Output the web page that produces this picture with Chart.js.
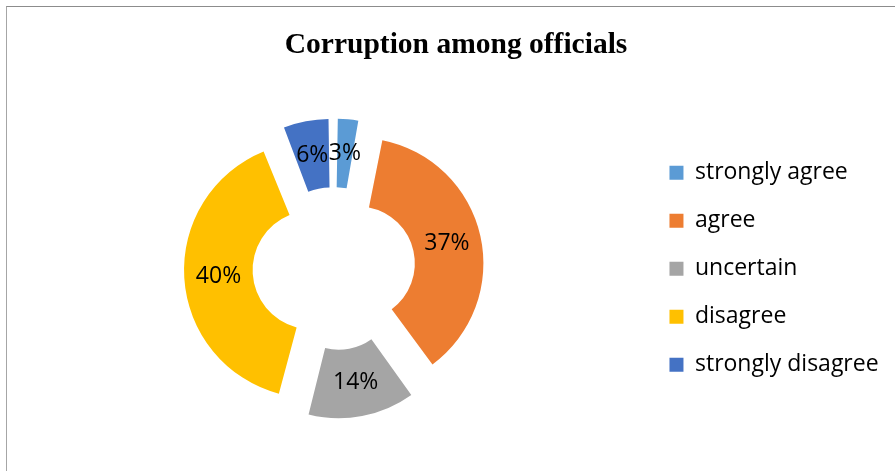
<!DOCTYPE html>
<html>
<head>
<meta charset="utf-8">
<script src="https://cdn.jsdelivr.net/npm/chart.js@4"></script>
<style>
  html, body { margin: 0; padding: 0; background: #fff; overflow: hidden; }
  #frame { position: absolute; left: 6px; top: 6px; width: 1000px; height: 1000px;
           border-left: 1px solid #a6a6a6; border-top: 1px solid #8c8c8c; }
  #wrap { position: absolute; left: 0; top: 0; width: 895px; height: 471px; }
</style>
</head>
<body>
<div id="frame"></div>
<div id="wrap"><canvas id="chart"></canvas></div>
<script>
const categories = ["strongly agree", "agree", "uncertain", "disagree", "strongly disagree"];
const percentages = [3, 37, 14, 40, 6];
const sliceColors = ["#5B9BD5", "#ED7D31", "#A5A5A5", "#FFC000", "#4472C4"];
const chartTitle = "Corruption among officials";

// every slice pulled out of the ring by the same distance
const explode = 31;
const total = percentages.reduce((a, b) => a + b, 0);

// Chart.js moves an arc by offset/4 * (2 - sin(circumference)), so undo that per slice
function sliceOffset(ctx) {
  const circ = 2 * Math.PI * ctx.dataset.data[ctx.dataIndex] / total;
  return 4 * explode / (2 - Math.sin(Math.min(Math.PI, circ)));
}

// percentage text in the middle of each pulled-out slice
const sliceLabels = {
  id: 'sliceLabels',
  afterDatasetsDraw(chart) {
    const ctx = chart.ctx;
    const meta = chart.getDatasetMeta(0);
    ctx.save();
    ctx.font = '23px "Open Sans"';
    ctx.fillStyle = '#000';
    ctx.textAlign = 'center';
    ctx.textBaseline = 'middle';
    meta.data.forEach((arc, i) => {
      const p = arc.getProps(['x', 'y', 'startAngle', 'endAngle', 'innerRadius', 'outerRadius'], true);
      const mid = (p.startAngle + p.endAngle) / 2;
      const r = (p.innerRadius + p.outerRadius) / 2 + explode;
      ctx.fillText(percentages[i] + '%', p.x + Math.cos(mid) * r, p.y + Math.sin(mid) * r);
    });
    ctx.restore();
  }
};

new Chart(document.getElementById('chart'), {
  type: 'doughnut',
  data: {
    labels: categories,
    datasets: [{
      data: percentages,
      backgroundColor: sliceColors,
      borderWidth: 0,
      offset: sliceOffset,
      hoverOffset: 0
    }]
  },
  options: {
    responsive: true,
    maintainAspectRatio: false,
    animation: false,
    radius: 119,
    cutout: 58,
    layout: { padding: { left: 23.5, right: 6.4, top: 8, bottom: 15 } },
    plugins: {
      tooltip: { enabled: false },
      title: {
        display: true,
        text: chartTitle,
        color: '#000',
        font: { family: '"Liberation Serif", "Times New Roman", serif', size: 29.5, weight: 'bold' },
        padding: { top: 20, bottom: 18 }
      },
      legend: {
        position: 'right',
        fullSize: false,
        labels: {
          color: '#000',
          font: { family: '"Open Sans"', size: 23 },
          boxWidth: 14,
          boxHeight: 14,
          padding: 25
        }
      }
    }
  },
  plugins: [sliceLabels]
});
</script>
</body>
</html>
